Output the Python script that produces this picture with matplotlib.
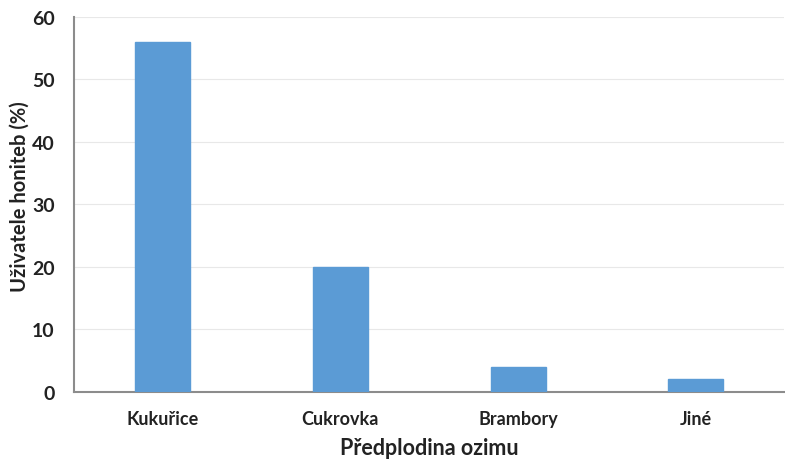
import matplotlib
matplotlib.use("Agg")
import matplotlib.pyplot as plt

categories = ["Kukuřice", "Cukrovka", "Brambory", "Jiné"]
values = [56, 20, 4, 2]
yticks = [0, 10, 20, 30, 40, 50, 60]

plt.rcParams['font.family'] = ['Lato', 'DejaVu Sans']

fig = plt.figure(figsize=(7.85, 4.6), dpi=100)
ax = fig.add_axes([0.0943, 0.1457, 0.905, 0.8152])

x = range(len(categories))
ax.bar(x, values, width=0.31, color="#5B9BD5", edgecolor="#5B9BD5", zorder=3)

ax.set_xlim(-0.5, len(categories) - 0.5)
ax.set_ylim(0, 60)
ax.set_yticks(yticks)
ax.set_xticks(list(x))
ax.set_xticklabels(categories)
ax.yaxis.grid(True, color="#e8e8e8", linewidth=0.8, zorder=0)
ax.set_axisbelow(True)

for s in ["top", "right"]:
    ax.spines[s].set_visible(False)
for s in ["left", "bottom"]:
    ax.spines[s].set_color("#8c8c8c")
    ax.spines[s].set_linewidth(1.5)

ax.tick_params(axis="both", length=0, colors="#222222")
ax.tick_params(axis="x", pad=13, labelsize=13)
ax.tick_params(axis="y", pad=14, labelsize=14)
for lbl in ax.get_xticklabels() + ax.get_yticklabels():
    lbl.set_fontweight("bold")

ax.set_xlabel("Předplodina ozimu", fontsize=15.5, fontweight="bold", color="#222222", labelpad=7)
ax.set_ylabel("Uživatele honiteb (%)", fontsize=14.5, fontweight="bold", color="#222222")
ax.yaxis.set_label_coords(-0.062, 0.523)

fig.savefig("out.png", dpi=100)
